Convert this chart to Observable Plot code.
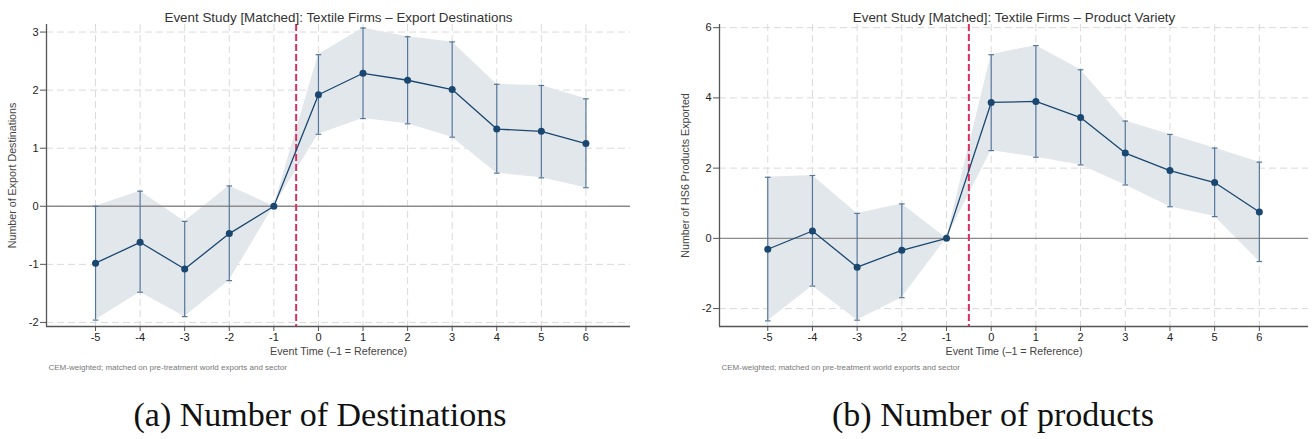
<!DOCTYPE html>
<html>
<head>
<meta charset="utf-8">
<script src="https://cdn.jsdelivr.net/npm/d3@7"></script>
<script src="https://cdn.jsdelivr.net/npm/@observablehq/plot@0.6"></script>
<style>
  body { margin: 0; background: #fff; }
  #fig { position: relative; width: 1316px; height: 439px; overflow: hidden; background: #fff; }
  .panel { position: absolute; top: 0; }
  .sub {
    position: absolute; top: 398px; transform: translateX(-50%);
    font-family: "Liberation Serif", "Times New Roman", serif; font-size: 34px;
    line-height: 34px; white-space: nowrap; color: #111;
  }
</style>
</head>
<body>
<div id="fig"></div>
<script>
// Event-time grid (−1 is the omitted reference period)
const eventTime = [-5, -4, -3, -2, -1, 0, 1, 2, 3, 4, 5, 6];
const treatmentTime = -0.5;

// Panel (a): number of export destinations
const destCoef = [-0.98, -0.62, -1.08, -0.47, 0, 1.92, 2.29, 2.17, 2.01, 1.33, 1.29, 1.08];
const destLo   = [-1.96, -1.48, -1.90, -1.28, 0, 1.24, 1.51, 1.42, 1.19, 0.57, 0.49, 0.32];
const destHi   = [0.00, 0.26, -0.26, 0.35, 0, 2.61, 3.07, 2.92, 2.83, 2.10, 2.08, 1.85];
const destTicks = [-2, -1, 0, 1, 2, 3];

// Panel (b): number of HS6 products exported
const prodCoef = [-0.31, 0.21, -0.82, -0.34, 0, 3.87, 3.90, 3.44, 2.43, 1.93, 1.59, 0.75];
const prodLo   = [-2.35, -1.36, -2.33, -1.69, 0, 2.50, 2.31, 2.09, 1.52, 0.90, 0.62, -0.66];
const prodHi   = [1.74, 1.79, 0.71, 0.98, 0, 5.23, 5.49, 4.80, 3.34, 2.96, 2.57, 2.17];
const prodTicks = [-2, 0, 2, 4, 6];

const xLabel = "Event Time (\u20131 = Reference)";
const note = "CEM-weighted; matched on pre-treatment world exports and sector";

// Horizontal cap symbol for the confidence-interval whiskers
const capSymbol = {
  draw(context, size) {
    const w = Math.sqrt(size / Math.PI);
    context.moveTo(-w, 0);
    context.lineTo(w, 0);
  }
};

const fmt = d => String(d);

function eventPanel({coef, lo, hi, yTicks, yDomain, xDomain, marginLeft, marginRight, title, yLabel}) {
  const rows = eventTime.map((t, i) => ({t, coef: coef[i], lo: lo[i], hi: hi[i]}));
  const ciColor = "#56779a";
  const navy = "#1a476f";
  return Plot.plot({
    width: 658,
    height: 380,
    marginTop: 24,
    marginBottom: 54,
    marginLeft,
    marginRight,
    style: {fontFamily: '"Liberation Sans", Arial, sans-serif', fontSize: "11px", color: "#222", background: "#fff", overflow: "visible"},
    x: {domain: xDomain},
    y: {domain: yDomain},
    marks: [
      Plot.gridX(eventTime, {stroke: "#dadada", strokeOpacity: 1, strokeDasharray: "7,4"}),
      Plot.gridY(yTicks, {stroke: "#dadada", strokeOpacity: 1, strokeDasharray: "7,4"}),
      Plot.areaY(rows, {x: "t", y1: "lo", y2: "hi", fill: "#e2e7ec"}),
      Plot.ruleY([0], {stroke: "#8c8c8c", strokeWidth: 1.4}),
      Plot.ruleX([treatmentTime], {stroke: "#dc2f5f", strokeWidth: 2, strokeDasharray: "7,3"}),
      Plot.ruleX(rows, {x: "t", y1: "lo", y2: "hi", stroke: ciColor, strokeWidth: 1.2}),
      Plot.dot(rows, {x: "t", y: "hi", symbol: capSymbol, r: 2.8, stroke: ciColor, strokeWidth: 1.2}),
      Plot.dot(rows, {x: "t", y: "lo", symbol: capSymbol, r: 2.8, stroke: ciColor, strokeWidth: 1.2}),
      Plot.line(rows, {x: "t", y: "coef", stroke: navy, strokeWidth: 1.3}),
      Plot.dot(rows, {x: "t", y: "coef", fill: navy, r: 3.5}),
      Plot.ruleX([xDomain[0]], {stroke: "#555", strokeWidth: 1.3}),
      Plot.ruleY([yDomain[0]], {stroke: "#555", strokeWidth: 1.3}),
      Plot.axisX({ticks: eventTime, tickFormat: fmt, tickSize: 5, tickPadding: 2, label: null, stroke: "#555"}),
      Plot.axisY({ticks: yTicks, tickFormat: fmt, tickSize: 6, tickPadding: 2, label: null, stroke: "#555"}),
      Plot.text([title], {frameAnchor: "top", dy: -12, fontSize: 13.4, fill: "#333"}),
      Plot.text([yLabel], {frameAnchor: "left", dx: -34, rotate: -90, textAnchor: "middle", fontSize: 10.7, fill: "#444"}),
      Plot.text([xLabel], {frameAnchor: "bottom", dy: 28, fontSize: 10.7, fill: "#444"}),
      Plot.text([note], {frameAnchor: "bottom-left", dx: 2, dy: 43, textAnchor: "start", fontSize: 8, fill: "#777"})
    ]
  });
}

const fig = document.getElementById("fig");

const left = eventPanel({
  coef: destCoef, lo: destLo, hi: destHi,
  yTicks: destTicks, yDomain: [-2.07, 3.13], xDomain: [-6.1, 7.0],
  marginLeft: 46, marginRight: 28,
  title: "Event Study [Matched]: Textile Firms \u2013 Export Destinations",
  yLabel: "Number of Export Destinations"
});
left.classList.add("panel");
left.style.left = "0px";
fig.appendChild(left);

const right = eventPanel({
  coef: prodCoef, lo: prodLo, hi: prodHi,
  yTicks: prodTicks, yDomain: [-2.51, 6.09], xDomain: [-6.08, 7.1],
  marginLeft: 61, marginRight: 8,
  title: "Event Study [Matched]: Textile Firms \u2013 Product Variety",
  yLabel: "Number of HS6 Products Exported"
});
right.classList.add("panel");
right.style.left = "658px";
fig.appendChild(right);

const subA = document.createElement("div");
subA.className = "sub";
subA.style.left = "320px";
subA.textContent = "(a) Number of Destinations";
fig.appendChild(subA);

const subB = document.createElement("div");
subB.className = "sub";
subB.style.left = "993px";
subB.textContent = "(b) Number of products";
fig.appendChild(subB);
</script>
</body>
</html>
